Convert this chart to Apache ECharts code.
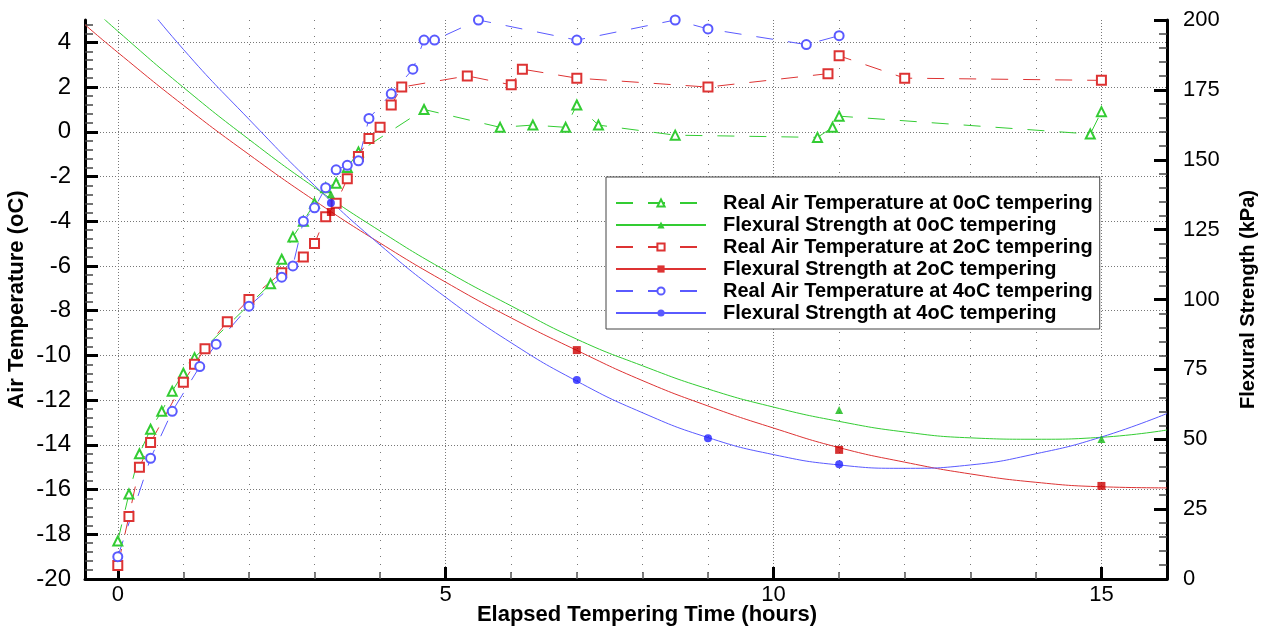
<!DOCTYPE html>
<html>
<head>
<meta charset="utf-8">
<script src="https://cdn.jsdelivr.net/npm/echarts@6/dist/echarts.min.js"></script>
<style>
html, body { margin: 0; padding: 0; background: #fff; }
#chart { width: 1267px; height: 630px; }
</style>
</head>
<body>
<div id="chart"></div>
<script>
// measured air temperature (oC) vs elapsed time (h)
const time0 = [0, 0.17, 0.33, 0.5, 0.67, 0.83, 1.0, 1.17, 2.33, 2.5, 2.67, 2.83, 3.0, 3.17, 3.33, 3.5, 3.67, 4.67, 5.83, 6.33, 6.83, 7.0, 7.33, 8.5, 10.67, 10.9, 11.0, 14.83, 15.0];
const temp0 = [-18.3, -16.2, -14.4, -13.3, -12.5, -11.6, -10.8, -10.1, -6.8, -5.7, -4.7, -4.0, -3.2, -2.5, -2.3, -1.6, -0.9, 1.0, 0.2, 0.3, 0.2, 1.2, 0.3, -0.15, -0.25, 0.2, 0.7, -0.1, 0.9];

const time2 = [0, 0.17, 0.33, 0.5, 1.0, 1.17, 1.33, 1.67, 2.0, 2.5, 2.83, 3.0, 3.17, 3.33, 3.5, 3.67, 3.83, 4.0, 4.17, 4.33, 5.33, 6.0, 6.17, 7.0, 9.0, 10.83, 11.0, 12.0, 15.0];
const temp2 = [-19.4, -17.2, -15.0, -13.9, -11.2, -10.4, -9.7, -8.5, -7.5, -6.3, -5.6, -5.0, -3.8, -3.2, -2.1, -1.1, -0.3, 0.2, 1.2, 2.0, 2.5, 2.1, 2.8, 2.4, 2.0, 2.6, 3.4, 2.4, 2.3];

const time4 = [0, 0.5, 0.83, 1.25, 1.5, 2.0, 2.5, 2.67, 2.83, 3.0, 3.17, 3.33, 3.5, 3.67, 3.83, 4.17, 4.5, 4.67, 4.83, 5.5, 7.0, 8.5, 9.0, 10.5, 11.0];
const temp4 = [-19.0, -14.6, -12.5, -10.5, -9.5, -7.8, -6.5, -6.0, -4.0, -3.4, -2.5, -1.7, -1.5, -1.3, 0.6, 1.7, 2.8, 4.1, 4.1, 5.0, 4.1, 5.0, 4.6, 3.9, 4.3];

// flexural strength (kPa), measured points
const flexTime0 = [3.25, 11, 15];
const flexVal0 = [137.7, 60.5, 50.1];
const flexTime2 = [3.25, 7, 11, 15];
const flexVal2 = [131.3, 81.9, 46.2, 33.3];
const flexTime4 = [3.25, 7, 9, 11];
const flexVal4 = [134.5, 71.2, 50.4, 41.1];

// fitted strength curves
const curveTime = [-0.5, 0, 1, 2, 3, 4, 5, 6, 7, 8, 9, 10, 11, 12, 13, 14, 15, 16];
const curve0 = [206.6, 196.0, 175.9, 157.3, 140.1, 124.5, 110.3, 97.7, 85.8, 76.3, 68.0, 61.5, 56.4, 52.6, 50.5, 50.0, 50.7, 53.3];
const curve2 = [198.3, 188.4, 169.5, 151.9, 135.4, 120.2, 106.2, 93.4, 81.8, 71.0, 61.9, 54.0, 47.0, 41.8, 37.6, 34.6, 33.0, 32.6];
const curve4 = [232, 218, 189.5, 164.5, 140.8, 119.5, 100.8, 84.5, 70.8, 59.5, 50.6, 44.5, 40.8, 39.6, 40.8, 44.8, 50.8, 59.2];

const xMajor = [0, 5, 10, 15];
const xMinor = [1, 2, 3, 4, 6, 7, 8, 9, 11, 12, 13, 14];
const yLeftTicks = [-20, -18, -16, -14, -12, -10, -8, -6, -4, -2, 0, 2, 4];

const names = [
  'Real Air Temperature at 0oC tempering',
  'Flexural Strength at 0oC tempering',
  'Real Air Temperature at 2oC tempering',
  'Flexural Strength at 2oC tempering',
  'Real Air Temperature at 4oC tempering',
  'Flexural Strength at 4oC tempering'
];

const GREEN = '#33cc33', RED = '#dd3333', BLUE = '#5a5aff';
const FONT = 'Liberation Sans, Arial, sans-serif';
const DASH = [17, 15];

function zip(a, b) { return a.map((v, i) => [v, b[i]]); }

function tempSeries(name, t, v, color, symbol) {
  return {
    name: name, type: 'line', xAxisIndex: 0, yAxisIndex: 0,
    data: zip(t, v), symbol: symbol, symbolSize: 9,
    lineStyle: { color: color, width: 1, type: DASH },
    itemStyle: { color: color, borderWidth: 1 },
    z: 3
  };
}
function curveSeries(name, v, color, symbol) {
  return {
    name: name, type: 'line', xAxisIndex: 0, yAxisIndex: 1,
    data: zip(curveTime, v), symbol: symbol, showSymbol: false, smooth: true,
    lineStyle: { color: color, width: 1 }, itemStyle: { color: color },
    z: 2
  };
}
function markSeries(name, t, v, color, symbol) {
  return {
    name: name, type: 'scatter', xAxisIndex: 0, yAxisIndex: 1,
    data: zip(t, v), symbol: symbol, symbolSize: 8,
    itemStyle: { color: color }, z: 4
  };
}

const chart = echarts.init(document.getElementById('chart'));
chart.setOption({
  animation: false,
  textStyle: { fontFamily: FONT },
  grid: { left: 85, right: 100, top: 20, bottom: 51, containLabel: false, outerBoundsMode: 'none' },
  legend: {
    orient: 'vertical', left: 606, top: 177,
    itemWidth: 90, itemHeight: 9, itemGap: 2,
    padding: [16, 7, 6, 9],
    backgroundColor: '#fff', borderColor: '#444', borderWidth: 1,
    textStyle: { fontFamily: FONT, fontWeight: 'bold', fontSize: 20, color: '#000', lineHeight: 20, padding: [0, 0, 0, 12] },
    data: names
  },
  xAxis: [
    {
      type: 'value', min: -0.5, max: 16, position: 'bottom',
      name: 'Elapsed Tempering Time (hours)', nameLocation: 'middle', nameGap: 25, nameMoveOverlap: false,
      nameTextStyle: { fontFamily: FONT, fontWeight: 'bold', fontSize: 22, color: '#000', padding: [0, 0, 0, 42] },
      axisLine: { show: true, onZero: false, lineStyle: { color: '#000', width: 3 } },
      axisTick: { show: true, inside: true, length: 12, customValues: xMajor, lineStyle: { color: '#000', width: 3 } },
      axisLabel: { customValues: xMajor, fontSize: 22, color: '#000', margin: 5 },
      splitLine: { show: true, lineStyle: { color: '#777', width: 1, type: [1, 2] } }
    },
    {
      type: 'value', min: -0.5, max: 16, position: 'bottom',
      axisLine: { show: false, onZero: false },
      axisLabel: { show: false },
      axisTick: { show: true, inside: true, length: 7, customValues: xMinor, lineStyle: { color: '#555', width: 1.5 } },
      splitLine: { show: true, lineStyle: { color: '#777', width: 1, type: [1, 7] } }
    }
  ],
  yAxis: [
    {
      type: 'value', min: -20, max: 5, interval: 2, position: 'left',
      name: 'Air Temperature (oC)', nameLocation: 'middle', nameGap: 57, nameMoveOverlap: false,
      nameTextStyle: { fontFamily: FONT, fontWeight: 'bold', fontSize: 22, color: '#000' },
      axisLine: { show: true, onZero: false, lineStyle: { color: '#000', width: 3 } },
      axisTick: { show: true, inside: true, length: 13, customValues: yLeftTicks, lineStyle: { color: '#000', width: 3 } },
      minorTick: { show: true, splitNumber: 5, length: 8, lineStyle: { color: '#444', width: 1.5 } },
      axisLabel: { customValues: yLeftTicks, fontSize: 24, color: '#000', margin: 14 },
      splitLine: { show: true, lineStyle: { color: '#777', width: 1, type: [1, 2] } }
    },
    {
      type: 'value', min: 0, max: 200, interval: 25, position: 'right',
      name: 'Flexural Strength (kPa)', nameLocation: 'middle', nameGap: 71, nameMoveOverlap: false,
      nameTextStyle: { fontFamily: FONT, fontWeight: 'bold', fontSize: 20, color: '#000' },
      axisLine: { show: true, onZero: false, lineStyle: { color: '#000', width: 3 } },
      axisTick: { show: true, inside: true, length: 13, lineStyle: { color: '#000', width: 3 } },
      minorTick: { show: true, splitNumber: 5, length: 8, lineStyle: { color: '#444', width: 1.5 } },
      axisLabel: { fontSize: 22, color: '#000', margin: 16 },
      splitLine: { show: false }
    }
  ],
  series: [
    tempSeries(names[0], time0, temp0, GREEN, 'emptyTriangle'),
    curveSeries(names[1], curve0, GREEN, 'triangle'),
    markSeries(names[1], flexTime0, flexVal0, '#11b811', 'triangle'),
    tempSeries(names[2], time2, temp2, RED, 'emptyRect'),
    curveSeries(names[3], curve2, RED, 'rect'),
    markSeries(names[3], flexTime2, flexVal2, '#cc0000', 'rect'),
    tempSeries(names[4], time4, temp4, BLUE, 'emptyCircle'),
    curveSeries(names[5], curve4, BLUE, 'circle'),
    markSeries(names[5], flexTime4, flexVal4, '#2222ff', 'circle')
  ]
});
</script>
</body>
</html>
